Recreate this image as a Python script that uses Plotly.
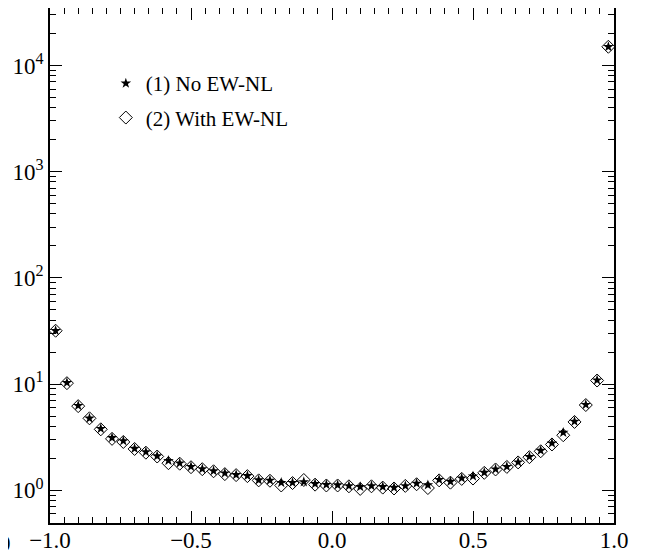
import plotly.graph_objects as go

x_centers = [-0.98 + 0.04 * i for i in range(50)]
x_centers = [round(v, 2) for v in x_centers]

no_ewnl = [31.8, 10.3, 6.26, 4.76, 3.80, 3.12, 2.92, 2.47, 2.30, 2.10,
           1.90, 1.80, 1.67, 1.59, 1.52, 1.45, 1.40, 1.37, 1.25, 1.24,
           1.18, 1.18, 1.20, 1.15, 1.13, 1.12, 1.10, 1.08, 1.10, 1.08,
           1.06, 1.10, 1.16, 1.12, 1.26, 1.21, 1.30, 1.36, 1.47, 1.58,
           1.67, 1.84, 2.07, 2.37, 2.78, 3.50, 4.45, 6.40, 10.9, 15000]

with_ewnl = [31.8, 10.2, 6.20, 4.76, 3.75, 3.05, 2.85, 2.45, 2.26, 2.08,
             1.80, 1.78, 1.65, 1.58, 1.51, 1.42, 1.39, 1.36, 1.24, 1.23,
             1.11, 1.17, 1.25, 1.13, 1.11, 1.11, 1.09, 1.03, 1.09, 1.06,
             1.04, 1.10, 1.14, 1.05, 1.24, 1.18, 1.28, 1.29, 1.46, 1.57,
             1.66, 1.83, 2.05, 2.33, 2.70, 3.30, 4.40, 6.35, 10.8, 15000]

series_names = ["(1) No EW-NL", "(2) With EW-NL"]

x_tick_vals = [-1.0, -0.5, 0.0, 0.5, 1.0]
x_tick_text = ["\u22121.0", "\u22120.5", "0.0", "0.5", "1.0"]
y_tick_vals = [1, 10, 100, 1000, 10000]
y_tick_text = ["10<sup>0</sup>", "10<sup>1</sup>", "10<sup>2</sup>", "10<sup>3</sup>", "10<sup>4</sup>"]

x_minor = [round(-1.0 + 0.05 * i, 2) for i in range(41)]
y_minor = [m * 10 ** k for k in range(-1, 5) for m in range(2, 10)]

FONT = "Liberation Serif"

fig = go.Figure()
fig.add_trace(go.Scatter(
    x=x_centers, y=no_ewnl, mode="markers", name=series_names[0], legendgroup="a",
    marker=dict(symbol="star", size=8, color="black", line=dict(width=0)),
))
fig.add_trace(go.Scatter(
    x=x_centers, y=with_ewnl, mode="markers", name=series_names[1], legendgroup="b",
    marker=dict(symbol="diamond-open", size=10, color="black", line=dict(width=1, color="black")),
))

axis_common = dict(
    showgrid=False, zeroline=False, showline=True, linecolor="black", linewidth=1.5,
    mirror="ticks", ticks="inside", tickcolor="black", tickwidth=1.2, ticklen=12,
    tickfont=dict(family=FONT, size=23, color="black"), automargin=False,
)

fig.update_xaxes(
    range=[-1.0, 1.0], tickvals=x_tick_vals, ticktext=x_tick_text,
    ticklabelstandoff=-4,
    minor=dict(tickvals=x_minor, ticks="inside", ticklen=6, tickcolor="black", tickwidth=1),
    **axis_common,
)
fig.update_yaxes(
    type="log", range=[-0.308, 4.541], tickvals=y_tick_vals, ticktext=y_tick_text,
    minor=dict(tickvals=y_minor, ticks="inside", ticklen=6, tickcolor="black", tickwidth=1),
    **axis_common,
)

fig.update_layout(
    width=645, height=555,
    margin=dict(l=42, r=39, t=0, b=40, autoexpand=False),
    paper_bgcolor="white", plot_bgcolor="white",
    font=dict(family=FONT, color="black"),
    showlegend=True,
    legend=dict(
        x=0.099, y=0.893, xanchor="left", yanchor="top",
        bgcolor="rgba(0,0,0,0)", borderwidth=0, tracegroupgap=4,
        font=dict(family=FONT, size=21, color="black"),
    ),
    annotations=[dict(
        text="0", xref="paper", yref="paper", x=-0.0656, y=-0.04,
        xanchor="right", yanchor="middle", showarrow=False,
        font=dict(family=FONT, size=23, color="black"),
    )],
)

fig.write_html("out.html")
